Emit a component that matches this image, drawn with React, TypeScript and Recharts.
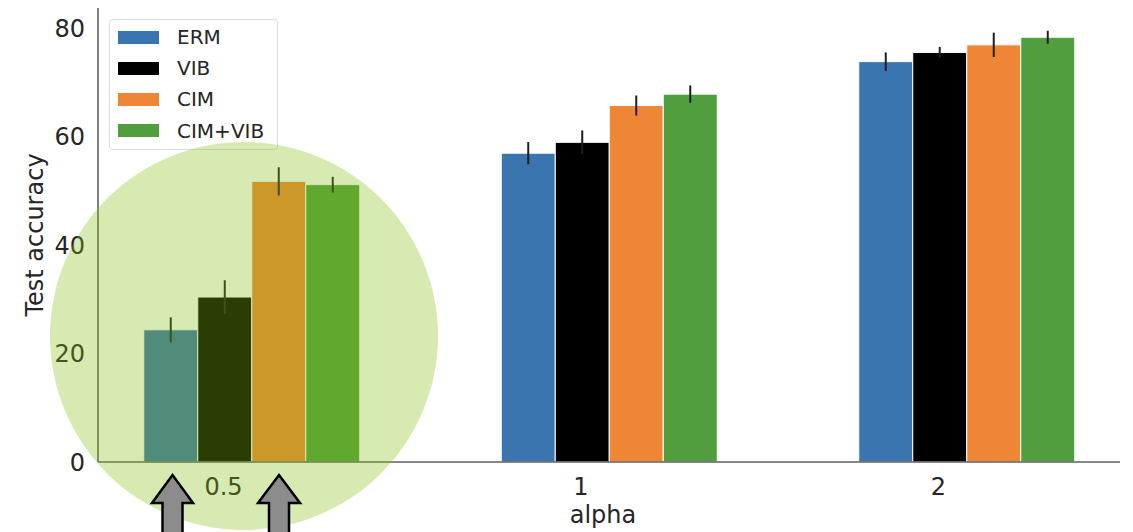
import React from 'react';
import { BarChart, Bar, XAxis, YAxis, Legend, ErrorBar } from 'recharts';

const categories = ['0.5', '1', '2'];
const erm = [24.4, 57.0, 73.9];
const ermErr = [2.3, 2.05, 1.7];
const vib = [30.45, 59.0, 75.6];
const vibErr = [3.1, 2.2, 1.0];
const cim = [51.8, 65.8, 77.0];
const cimErr = [2.6, 1.85, 2.25];
const cimVib = [51.2, 67.9, 78.4];
const cimVibErr = [1.45, 1.6, 1.2];
const yTicks = [0, 20, 40, 60, 80];

const seriesNames = ['ERM', 'VIB', 'CIM', 'CIM+VIB'];
const seriesColors = ['#3a75af', '#000000', '#ef8636', '#519e3e'];

const data = categories.map((c, i) => ({
  alpha: c,
  erm: erm[i], ermErr: ermErr[i],
  vib: vib[i], vibErr: vibErr[i],
  cim: cim[i], cimErr: cimErr[i],
  cimVib: cimVib[i], cimVibErr: cimVibErr[i],
}));

const FONT = '"DejaVu Sans", sans-serif';
const TEXT = '#262626';
const AXIS = '#5f5f5f';

const XTick = (props: any) => {
  const { x, y, payload } = props;
  return (
    <text x={x - 27.5} y={y + 31} textAnchor="middle" fill={TEXT} fontSize={24} fontFamily={FONT}>
      {payload.value}
    </text>
  );
};

const renderLegend = () => (
  <div
    style={{
      border: '1px solid #dcdcdc',
      borderRadius: 4,
      background: 'rgba(255,255,255,0.85)',
      width: 167,
      height: 129,
      boxSizing: 'content-box',
      position: 'relative',
      fontFamily: FONT,
    }}
  >
    {seriesNames.map((n, i) => (
      <div
        key={n}
        style={{ position: 'absolute', left: 0, top: 17 + i * 31.2 - 12, height: 24, display: 'flex', alignItems: 'center' }}
      >
        <div style={{ marginLeft: 8, width: 41, height: 13, background: seriesColors[i] }} />
        <span style={{ marginLeft: 18, fontSize: 20, color: TEXT, lineHeight: '24px' }}>{n}</span>
      </div>
    ))}
  </div>
);

const errProps = { width: 0, strokeWidth: 2, stroke: '#1e1e1e', direction: 'y' as const };

export default function App() {
  return (
    <div style={{ position: 'absolute', left: 0, top: 0, width: 1133, height: 532, fontFamily: FONT }}>
      <BarChart
        width={1133}
        height={532}
        data={data}
        margin={{ top: 8, right: 13, bottom: 0, left: 0 }}
        barCategoryGap="20%"
        barGap={0}
      >
        <XAxis
          dataKey="alpha"
          type="category"
          height={70}
          padding={{ left: -25.75, right: -24.75 }}
          axisLine={{ stroke: AXIS, strokeWidth: 1.6 }}
          tickLine={false}
          tickSize={0}
          tick={<XTick />}
          label={{ value: 'alpha', position: 'insideBottom', offset: 9, dx: -6, fill: TEXT, fontSize: 24, fontFamily: FONT }}
        />
        <YAxis
          type="number"
          domain={[0, 83.8]}
          ticks={yTicks}
          width={98}
          axisLine={{ stroke: AXIS, strokeWidth: 1.6 }}
          tickLine={false}
          tickSize={0}
          tickMargin={13}
          tick={{ fill: TEXT, fontSize: 24, fontFamily: FONT }}
          label={{
            value: 'Test accuracy',
            angle: -90,
            position: 'insideLeft',
            offset: 34,
            fill: TEXT,
            fontSize: 24,
            fontFamily: FONT,
            style: { textAnchor: 'middle' },
          }}
        />
        <Legend
          layout="vertical"
          align="center"
          verticalAlign="middle"
          content={renderLegend}
          wrapperStyle={{ left: 109, top: 19, width: 'auto', height: 'auto' }}
        />
        <Bar dataKey="erm" name="ERM" fill={seriesColors[0]} stroke="#fff" strokeWidth={1} isAnimationActive={false}>
          <ErrorBar dataKey="ermErr" {...errProps} />
        </Bar>
        <Bar dataKey="vib" name="VIB" fill={seriesColors[1]} stroke="#fff" strokeWidth={1} isAnimationActive={false}>
          <ErrorBar dataKey="vibErr" {...errProps} />
        </Bar>
        <Bar dataKey="cim" name="CIM" fill={seriesColors[2]} stroke="#fff" strokeWidth={1} isAnimationActive={false}>
          <ErrorBar dataKey="cimErr" {...errProps} />
        </Bar>
        <Bar dataKey="cimVib" name="CIM+VIB" fill={seriesColors[3]} stroke="#fff" strokeWidth={1} isAnimationActive={false}>
          <ErrorBar dataKey="cimVibErr" {...errProps} />
        </Bar>
      </BarChart>
      <svg
        width={1133}
        height={532}
        style={{ position: 'absolute', left: 0, top: 0, pointerEvents: 'none' }}
      >
        <circle cx={244} cy={336} r={194} fill="rgb(131,190,16)" fillOpacity={0.32} />
        <path
          d="M172.5 475 L193 503 L182.5 503 L182.5 540 L162.5 540 L162.5 503 L152 503 Z"
          fill="#8c8c8c"
          stroke="#000"
          strokeWidth={2.5}
          strokeLinejoin="miter"
        />
        <path
          d="M279 475 L300 503 L289 503 L289 540 L269 540 L269 503 L258 503 Z"
          fill="#8c8c8c"
          stroke="#000"
          strokeWidth={2.5}
          strokeLinejoin="miter"
        />
      </svg>
    </div>
  );
}
